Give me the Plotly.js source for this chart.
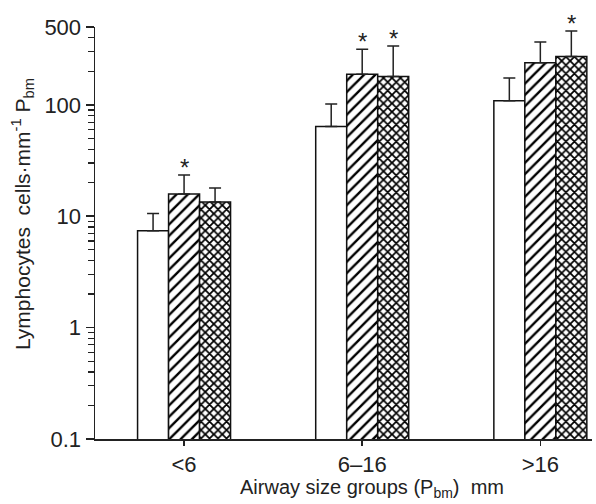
<!DOCTYPE html>
<html>
<head>
<meta charset="utf-8">
<script src="https://cdn.plot.ly/plotly-3.0.1.min.js"></script>
<style>html,body{margin:0;padding:0;background:#fff;}#chart{width:596px;height:504px;}</style>
</head>
<body>
<div id="chart"></div>
<script>
var categories = ['<6', '6\u201316', '>16'];
var seriesNames = ['Group A', 'Group B', 'Group C'];
var valuesA = [7.4, 64, 109];
var valuesB = [15.8, 188, 239];
var valuesC = [13.4, 180, 272];
var errTopA = [10.6, 102, 174];
var errTopB = [23.4, 315, 367];
var errTopC = [17.9, 338, 461];
var starsA = [false, false, false];
var starsB = [true, true, false];
var starsC = [false, true, true];
var yTickVals = [0.1, 1, 10, 100, 500];
var yTickText = ['0.1', '1', '10', '100', '500'];
var yMinorVals = [0.2,0.3,0.4,0.5,0.6,0.7,0.8,0.9,2,3,4,5,6,7,8,9,20,30,40,50,60,70,80,90,200,300,400];
var xTitle = 'Airway size groups (P<sub>bm</sub>)  mm';
var yTitle = 'Lymphocytes  cells\u00B7mm<sup>-1</sup> P<sub>bm</sub>';

var FONT = 'Liberation Sans, Arial, sans-serif';
var idx = categories.map(function(_, i){ return i; });
function plus(v, t){ return t.map(function(x, i){ return x - v[i]; }); }
function zeros(n){ var a=[]; for(var i=0;i<n;i++) a.push(0); return a; }

var patterns = [
  {shape: ''},
  {shape: '/', size: 8, solidity: 0.3, fgcolor: '#000', bgcolor: '#fff', fgopacity: 1, fillmode: 'replace'},
  {shape: 'x', size: 6, solidity: 0.5, fgcolor: '#000', bgcolor: '#fff', fgopacity: 1, fillmode: 'replace'}
];
var vals = [valuesA, valuesB, valuesC];
var tops = [errTopA, errTopB, errTopC];
var stars = [starsA, starsB, starsC];

var traces = vals.map(function(v, k){
  return {
    type: 'bar', name: seriesNames[k], x: idx, y: v,
    marker: {color: '#fff', line: {color: '#111', width: 1.5}, pattern: patterns[k]},
    error_y: {type: 'data', symmetric: false, array: plus(v, tops[k]), arrayminus: zeros(v.length),
              color: '#222', thickness: 1.5, width: 6},
    hoverinfo: 'skip'
  };
});
traces.push({type: 'scatter', x: [0], y: [1], yaxis: 'y2', mode: 'markers',
             marker: {opacity: 0}, showlegend: false, hoverinfo: 'skip'});

var barW = 0.174;
var annotations = [];
stars.forEach(function(s, k){
  s.forEach(function(on, i){
    if (!on) return;
    annotations.push({
      x: i + (k - 1) * barW, y: Math.log10(tops[k][i]), xref: 'x', yref: 'y',
      text: '*', showarrow: false, yanchor: 'bottom', yshift: -8,
      font: {family: FONT, size: 24, color: '#222'}
    });
  });
});
annotations.push({
  x: 0.557, y: 0, xref: 'paper', yref: 'paper', yanchor: 'top', xanchor: 'center', yshift: -35,
  text: xTitle, showarrow: false, font: {family: FONT, size: 20, color: '#222'}
});
annotations.push({
  x: 0, y: 0.546, xref: 'paper', yref: 'paper', xanchor: 'center', yanchor: 'middle', xshift: -73,
  textangle: -90, text: yTitle, showarrow: false, font: {family: FONT, size: 21, color: '#222'}
});

var yr = [Math.log10(0.1), Math.log10(500)];
var layout = {
  width: 596, height: 504,
  margin: {l: 95, r: 4, t: 27, b: 65},
  paper_bgcolor: '#fff', plot_bgcolor: '#fff',
  showlegend: false,
  barmode: 'group', bargap: 0.478, bargroupgap: 0,
  font: {family: FONT, color: '#222', size: 22},
  xaxis: {
    range: [-0.5, 2.29], tickmode: 'array', tickvals: idx, ticktext: categories,
    ticks: 'outside', ticklen: 5, tickwidth: 1.5, tickcolor: '#222',
    showline: true, linecolor: '#222', linewidth: 1.5, showgrid: false, zeroline: false,
    tickfont: {family: FONT, size: 22, color: '#222'}
  },
  yaxis: {
    type: 'log', range: yr, tickmode: 'array', tickvals: yTickVals, ticktext: yTickText,
    ticks: 'outside', ticklen: 8, tickwidth: 1.5, tickcolor: '#222',
    showline: true, linecolor: '#222', linewidth: 1.5, showgrid: false, zeroline: false,
    tickfont: {family: FONT, size: 22, color: '#222'}
  },
  yaxis2: {
    type: 'log', range: yr, overlaying: 'y', side: 'left', tickmode: 'array', tickvals: yMinorVals,
    ticks: 'outside', ticklen: 6, tickwidth: 1.2, tickcolor: '#222',
    showticklabels: false, showline: false, showgrid: false, zeroline: false
  },
  annotations: annotations
};
Plotly.newPlot('chart', traces, layout, {staticPlot: true, displayModeBar: false});
</script>
</body>
</html>
